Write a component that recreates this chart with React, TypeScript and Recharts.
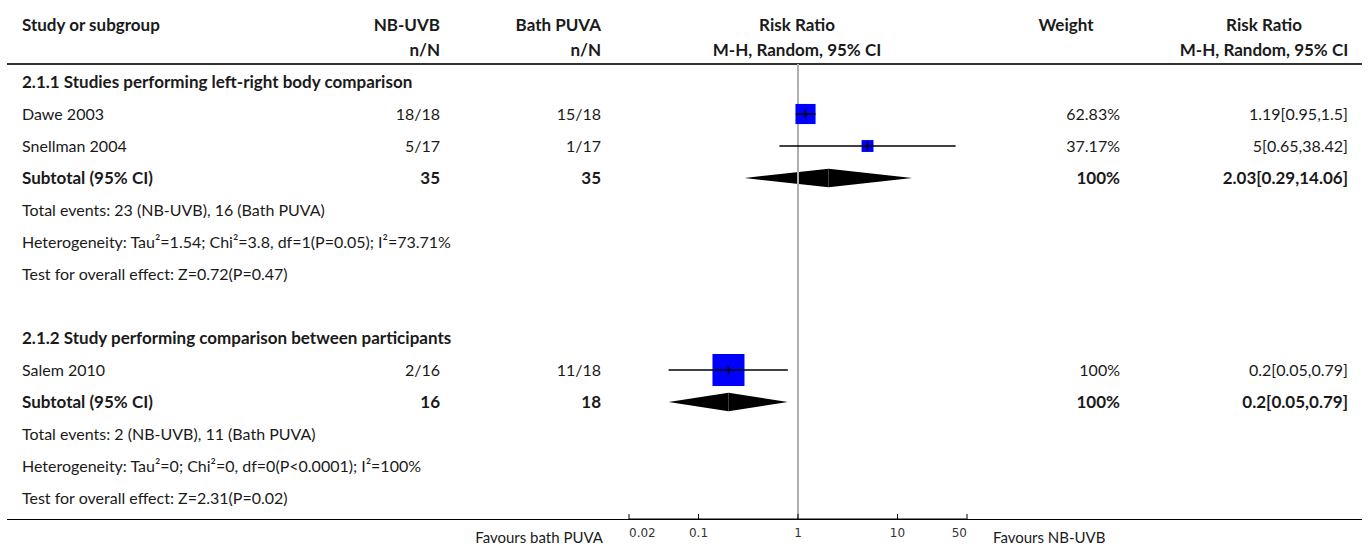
import React from 'react';
import {
  ComposedChart,
  XAxis,
  YAxis,
  Scatter,
  ReferenceLine,
  ReferenceArea,
  Customized,
} from 'recharts';

// ---------- data ----------
const studyNames = ['Dawe 2003', 'Snellman 2004', 'Salem 2010'];
const studyNbUvb = ['18/18', '5/17', '2/16'];
const studyBathPuva = ['15/18', '1/17', '11/18'];
const studyRR = [1.19, 5, 0.2];
const studyLow = [0.95, 0.65, 0.05];
const studyHigh = [1.5, 38.42, 0.79];
const studyWeight = [62.83, 37.17, 100];
const studyWeightLabels = ['62.83%', '37.17%', '100%'];
const studyRRLabels = ['1.19[0.95,1.5]', '5[0.65,38.42]', '0.2[0.05,0.79]'];
const studyRows = [1, 2, 9];

const subgroupTitles = [
  '2.1.1 Studies performing left-right body comparison',
  '2.1.2 Study performing comparison between participants',
];
const subgroupTitleRows = [0, 8];

const subtotalRows = [3, 10];
const subtotalNbUvb = ['35', '16'];
const subtotalBathPuva = ['35', '18'];
const subtotalRR = [2.03, 0.2];
const subtotalLow = [0.29, 0.05];
const subtotalHigh = [14.06, 0.79];
const subtotalWeightLabels = ['100%', '100%'];
const subtotalRRLabels = ['2.03[0.29,14.06]', '0.2[0.05,0.79]'];

const totalEventsNotes = [
  'Total events: 23 (NB-UVB), 16 (Bath PUVA)',
  'Total events: 2 (NB-UVB), 11 (Bath PUVA)',
];
const heterogeneityNotes = [
  'Heterogeneity: Tau\u00b2=1.54; Chi\u00b2=3.8, df=1(P=0.05); I\u00b2=73.71%',
  'Heterogeneity: Tau\u00b2=0; Chi\u00b2=0, df=0(P<0.0001); I\u00b2=100%',
];
const overallEffectNotes = [
  'Test for overall effect: Z=0.72(P=0.47)',
  'Test for overall effect: Z=2.31(P=0.02)',
];
const noteRows = [
  [4, 5, 6],
  [11, 12, 13],
];

const xTicks = [0.02, 0.1, 1, 10, 50];
const xTickLabels = ['0.02', '0.1', '1', '10', '50'];
const favoursLeft = 'Favours bath PUVA';
const favoursRight = 'Favours NB-UVB';

// ---------- layout / style ----------
const W = 1370;
const H = 548;
const FONT = 'Lato, sans-serif';
const FS = 16;
const FSB = 17;
const TXT = '#1a1a1a';
const COL_STUDY = 22;
const COL_NB = 440;
const COL_BATH = 601;
const COL_WEIGHT = 1120;
const COL_WEIGHT_HEAD = 1066;
const COL_RR = 1348;
const COL_RR_HEAD = 1264;
const COL_PLOT = 797;
const BOX_SCALE = 0.32;
const DIAMOND_HALF = 0.29;

// ---------- tables built from the data ----------
type TextRow = {
  row: number;
  x: number;
  label?: string;
  nb?: string;
  bath?: string;
  weight?: string;
  rr?: string;
  bold?: boolean;
};

const textRows: TextRow[] = [];
subgroupTitles.forEach((t, i) =>
  textRows.push({ row: subgroupTitleRows[i], x: 1, label: t, bold: true })
);
studyNames.forEach((n, i) =>
  textRows.push({
    row: studyRows[i],
    x: 1,
    label: n,
    nb: studyNbUvb[i],
    bath: studyBathPuva[i],
    weight: studyWeightLabels[i],
    rr: studyRRLabels[i],
  })
);
subtotalRows.forEach((r, i) =>
  textRows.push({
    row: r,
    x: 1,
    label: 'Subtotal (95% CI)',
    nb: subtotalNbUvb[i],
    bath: subtotalBathPuva[i],
    weight: subtotalWeightLabels[i],
    rr: subtotalRRLabels[i],
    bold: true,
  })
);
[totalEventsNotes, heterogeneityNotes, overallEffectNotes].forEach((notes, k) =>
  notes.forEach((n, g) => textRows.push({ row: noteRows[g][k], x: 1, label: n }))
);

const studyBoxes = studyNames.map((n, i) => ({
  name: n,
  row: studyRows[i],
  x: studyRR[i],
  weight: studyWeight[i],
}));

// one small series per study: lower limit, estimate, upper limit
const studyCIs = studyNames.map((n, i) => [
  { row: studyRows[i], x: studyLow[i], kind: 'lo' },
  { row: studyRows[i], x: studyRR[i], kind: 'est' },
  { row: studyRows[i], x: studyHigh[i], kind: 'hi' },
]);

const diamonds = subtotalRows.map((r, i) => ({
  row: r,
  est: subtotalRR[i],
  lo: subtotalLow[i],
  hi: subtotalHigh[i],
}));

// ---------- shapes ----------
const TextRowShape = (props: any) => {
  const { cy, payload } = props;
  if (cy == null || !payload) return <g />;
  const y = cy + 5.5;
  const fw = payload.bold ? 700 : 400;
  const common = {
    fontFamily: FONT,
    fontSize: payload.bold ? FSB : FS,
    fill: TXT,
    fontWeight: fw,
  };
  return (
    <g>
      {payload.label && (
        <text x={COL_STUDY} y={y} textAnchor="start" {...common}>
          {payload.label}
        </text>
      )}
      {payload.nb && (
        <text x={COL_NB} y={y} textAnchor="end" {...common}>
          {payload.nb}
        </text>
      )}
      {payload.bath && (
        <text x={COL_BATH} y={y} textAnchor="end" {...common}>
          {payload.bath}
        </text>
      )}
      {payload.weight && (
        <text x={COL_WEIGHT} y={y} textAnchor="end" {...common}>
          {payload.weight}
        </text>
      )}
      {payload.rr && (
        <text x={COL_RR} y={y} textAnchor="end" {...common}>
          {payload.rr}
        </text>
      )}
    </g>
  );
};

const BoxShape = (props: any) => {
  const { cx, cy, payload } = props;
  if (cx == null || cy == null) return <g />;
  const s = payload.weight * BOX_SCALE;
  return <rect x={cx - s / 2} y={cy - s / 2} width={s} height={s} fill="#0000ff" />;
};

const CIPointShape = (props: any) => {
  const { cx, cy, payload } = props;
  if (cx == null || cy == null || !payload || payload.kind !== 'est') return <g />;
  return <line x1={cx} x2={cx} y1={cy - 4.5} y2={cy + 4.5} stroke="#000" strokeWidth={1.5} />;
};

const LeftHalf = (p: any) => (
  <polygon
    points={`${p.x},${p.y + p.height / 2} ${p.x + p.width},${p.y} ${p.x + p.width},${p.y + p.height}`}
    fill="#000"
  />
);
const RightHalf = (p: any) => (
  <polygon
    points={`${p.x},${p.y} ${p.x + p.width},${p.y + p.height / 2} ${p.x},${p.y + p.height}`}
    fill="#000"
  />
);

const AxisTick = (props: any) => {
  const { x, y, payload, index } = props;
  const i = xTicks.indexOf(payload.value);
  const anchor = index === 0 ? 'start' : index === xTicks.length - 1 ? 'end' : 'middle';
  return (
    <g>
      <line x1={x} x2={x} y1={y} y2={y - 5} stroke="#000" strokeWidth={1} />
      <text
        x={x}
        y={y + 18}
        textAnchor={anchor}
        fontFamily="'DejaVu Sans', sans-serif"
        fontSize={12}
        fill="#333"
      >
        {xTickLabels[i]}
      </text>
    </g>
  );
};

const Frame = () => {
  const bold = { fontFamily: FONT, fontSize: FSB, fill: TXT, fontWeight: 700 };
  const y1 = 31;
  const y2 = 56;
  return (
    <g>
      <text x={COL_STUDY} y={y1} textAnchor="start" {...bold}>Study or subgroup</text>
      <text x={COL_NB} y={y1} textAnchor="end" {...bold}>NB-UVB</text>
      <text x={COL_NB} y={y2} textAnchor="end" {...bold}>n/N</text>
      <text x={COL_BATH} y={y1} textAnchor="end" {...bold}>Bath PUVA</text>
      <text x={COL_BATH} y={y2} textAnchor="end" {...bold}>n/N</text>
      <text x={COL_PLOT} y={y1} textAnchor="middle" {...bold}>Risk Ratio</text>
      <text x={COL_PLOT} y={y2} textAnchor="middle" {...bold}>M-H, Random, 95% CI</text>
      <text x={COL_WEIGHT_HEAD} y={y1} textAnchor="middle" {...bold}>Weight</text>
      <text x={COL_RR_HEAD} y={y1} textAnchor="middle" {...bold}>Risk Ratio</text>
      <text x={COL_RR_HEAD} y={y2} textAnchor="middle" {...bold}>M-H, Random, 95% CI</text>
      <line x1={7} x2={1362} y1={64} y2={64} stroke="#333" strokeWidth={2} />
      <line x1={7} x2={1362} y1={519.5} y2={519.5} stroke="#000" strokeWidth={1} />
      <text x={603} y={543} textAnchor="end" fontFamily={FONT} fontSize={15} fill={TXT}>
        {favoursLeft}
      </text>
      <text x={993} y={543} textAnchor="start" fontFamily={FONT} fontSize={15} fill={TXT}>
        {favoursRight}
      </text>
    </g>
  );
};

export default function App() {
  return (
    <div style={{ position: 'absolute', left: 0, top: 0, width: W, height: H, background: '#fff' }}>
      <ComposedChart
        width={W}
        height={H}
        margin={{ top: 64, right: 403, bottom: 0, left: 629 }}
      >
        <XAxis
          type="number"
          dataKey="x"
          scale="log"
          domain={[0.02, 50]}
          ticks={xTicks}
          height={29}
          axisLine={{ stroke: '#000', strokeWidth: 1 }}
          tickLine={false}
          tickSize={0}
          tickMargin={0}
          tick={<AxisTick />}
          interval={0}
        />
        <YAxis type="number" dataKey="row" domain={[-0.5625, 13.656]} reversed hide />
        <Customized component={Frame} />
        <ReferenceLine x={1} stroke="#b0b0b0" strokeWidth={2} />
        {diamonds.map((d) => (
          <ReferenceArea
            key={`l${d.row}`}
            x1={d.lo}
            x2={d.est}
            y1={d.row - DIAMOND_HALF}
            y2={d.row + DIAMOND_HALF}
            shape={LeftHalf}
            isFront
          />
        ))}
        {diamonds.map((d) => (
          <ReferenceArea
            key={`r${d.row}`}
            x1={d.est}
            x2={d.hi}
            y1={d.row - DIAMOND_HALF}
            y2={d.row + DIAMOND_HALF}
            shape={RightHalf}
            isFront
          />
        ))}
        <Scatter data={studyBoxes} isAnimationActive={false} shape={BoxShape} name="box" />
        {studyCIs.map((ci, i) => (
          <Scatter
            key={`ci${i}`}
            data={ci}
            isAnimationActive={false}
            shape={CIPointShape}
            line={{ stroke: '#000', strokeWidth: 1.5 }}
            lineType="joint"
            name={`ci${i}`}
          />
        ))}
        <Scatter data={textRows} isAnimationActive={false} shape={TextRowShape} name="text" />
      </ComposedChart>
    </div>
  );
}
